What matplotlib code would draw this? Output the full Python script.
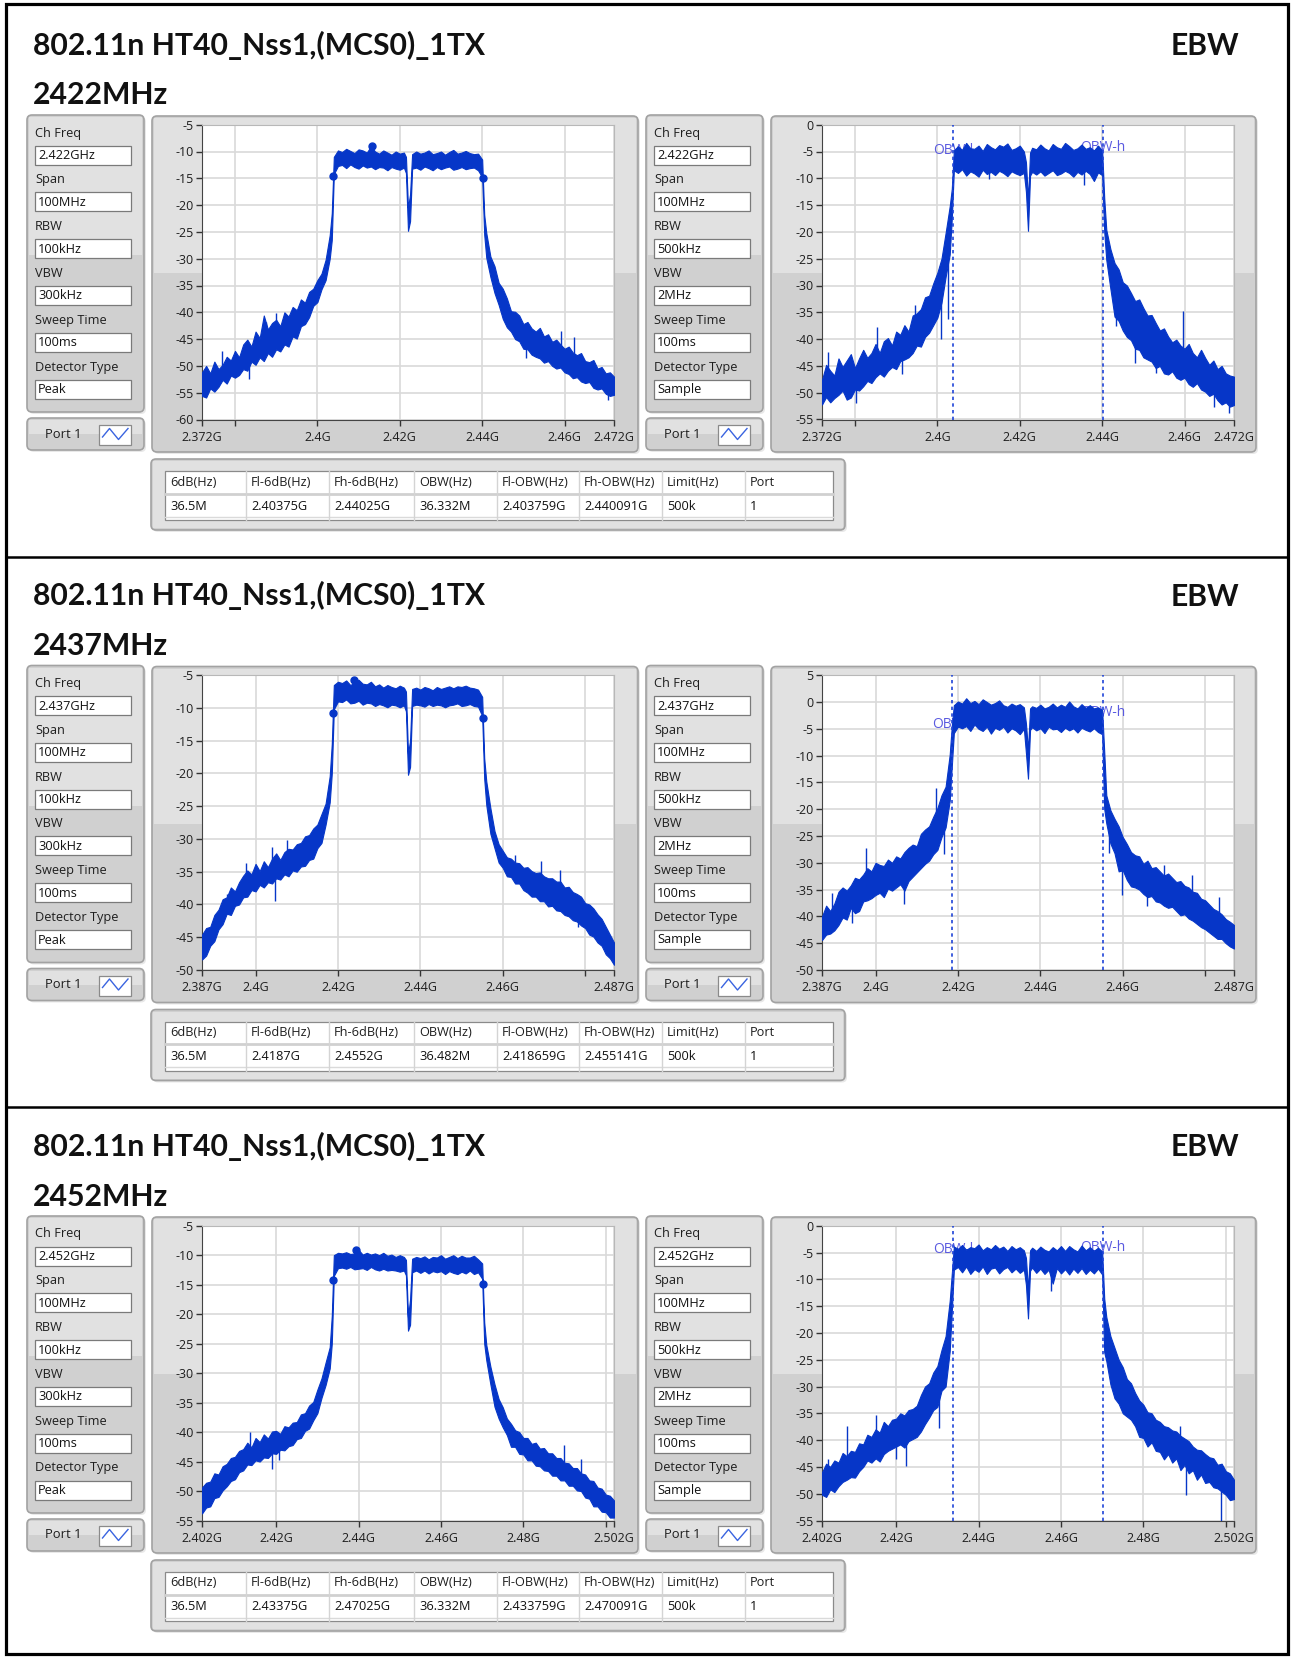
import numpy as np
import matplotlib.pyplot as plt
from matplotlib.patches import FancyBboxPatch, Rectangle

plt.rcParams['font.family'] = ['Open Sans', 'DejaVu Sans']

TEST_MODE = '802.11n HT40_Nss1,(MCS0)_1TX'
CH_FREQ = [2422, 2437, 2452]  # MHz

# sample points of the traces, MHz away from the channel centre
OFFSETS = ([float(v) for v in range(-50, -18)] + [-18.5]
           + [float(v) for v in range(-18, 0)] + [-0.5, 0.0, 0.5]
           + [float(v) for v in range(1, 19)] + [18.5]
           + [float(v) for v in range(19, 51)])

# peak detector traces (RBW 100kHz): upper / lower edge of the noisy trace, dBm
PK_2422_HI = [-51.2, -50.0, -51.4, -49.2, -50.6, -49.8, -48.3, -49.0, -47.2, -48.4,
              -46.0, -45.1, -46.4, -43.6, -44.8, -40.6, -43.2, -42.0, -41.4, -42.6,
              -40.0, -40.8, -39.0, -39.6, -37.6, -38.2, -36.2, -35.6, -34.0, -32.8, -30.2, -25.6,
              -21.5,
              -11.0, -9.8, -10.1, -9.5, -9.9, -10.3, -9.6, -9.8, -10.2, -9.0,
              -10.0, -10.4, -9.8, -10.2, -10.6, -10.0, -10.4, -10.2,
              -11.0, -20.5, -18.0,
              -10.5, -10.0, -10.4, -10.2, -9.8, -10.5, -10.3, -10.0, -10.6, -10.1,
              -9.7, -10.4, -10.2, -9.9, -10.3, -10.5, -10.4, -11.5,
              -21.8,
              -25.2, -29.6, -31.4, -34.5, -35.6, -37.4, -39.8, -39.9, -40.6, -42.2, -41.8, -43.0,
              -43.6, -42.9, -44.5, -44.1, -45.5, -45.1, -46.0, -46.8, -46.4, -47.5,
              -48.0, -47.6, -49.1, -49.3, -48.9, -50.5, -50.2, -51.4, -51.2, -52.0]
PK_2422_LO = [-55.6, -55.9, -54.2, -54.8, -53.9, -52.6, -53.3, -51.8, -52.2, -51.7,
              -50.6, -50.9, -49.2, -49.8, -48.4, -49.1, -47.6, -48.3, -46.9, -47.3,
              -46.0, -46.4, -44.5, -44.9, -42.6, -42.2, -40.9, -38.8, -38.1, -35.7, -34.0, -30.0,
              -26.5,
              -14.2, -12.7, -12.5, -13.1, -12.4, -12.9, -13.2, -12.6, -13.0, -12.8,
              -13.3, -12.9, -13.0, -13.5, -12.9, -13.2, -13.4, -13.0,
              -14.0, -24.8, -23.0,
              -13.2, -13.0, -13.4, -12.8, -13.1, -13.5, -12.9, -13.3, -13.0, -12.8,
              -13.4, -13.2, -12.9, -13.3, -13.1, -13.0, -13.5, -14.8,
              -25.5,
              -29.8, -33.4, -36.4, -38.6, -41.2, -42.8, -43.6, -45.0, -45.4, -46.8, -46.9, -47.9,
              -48.3, -48.6, -49.4, -49.1, -50.0, -50.5, -50.3, -51.2, -51.5, -52.3,
              -52.1, -52.9, -53.2, -53.0, -54.1, -54.4, -54.2, -55.2, -55.6, -55.4]

PK_2437_HI = [-44.6, -43.6, -43.4, -41.6, -40.8, -39.2, -38.9, -37.4, -38.0, -36.6,
              -35.6, -34.8, -35.4, -33.8, -34.9, -33.4, -34.3, -33.0, -32.2, -33.2,
              -32.0, -31.5, -31.6, -30.8, -30.6, -29.6, -29.4, -28.4, -27.8, -26.2, -24.6, -20.4,
              -15.5,
              -6.5, -6.0, -6.2, -5.8, -6.5, -6.1, -5.7, -6.3, -6.4, -6.0,
              -6.7, -6.4, -6.9, -6.5, -6.8, -7.0, -6.6, -6.9,
              -7.5, -17.0, -15.0,
              -7.1, -6.9, -7.2, -6.8, -7.0, -7.3, -6.8, -7.1, -6.9, -6.7,
              -7.0, -6.7, -6.8, -6.6, -6.9, -7.0, -7.2, -8.3,
              -17.7,
              -21.2, -25.3, -28.8, -30.8, -31.8, -32.8, -33.0, -33.6, -33.7, -34.4, -34.3, -34.9,
              -35.2, -35.1, -35.7, -36.0, -36.0, -36.5, -36.5, -37.4, -37.3, -38.1,
              -38.4, -38.8, -39.8, -40.0, -40.6, -41.5, -42.2, -43.4, -44.6, -45.8]
PK_2437_LO = [-48.4, -47.8, -46.3, -45.6, -43.8, -43.0, -41.4, -41.6, -40.2, -40.0,
              -38.9, -38.8, -37.8, -38.0, -37.0, -37.4, -36.6, -36.8, -36.0, -36.2,
              -35.4, -35.7, -34.8, -35.0, -34.2, -34.1, -33.2, -33.0, -31.4, -30.6, -27.8, -24.4,
              -20.0,
              -10.2, -9.0, -9.1, -8.7, -9.3, -9.2, -8.9, -9.5, -9.2, -9.3,
              -9.7, -9.4, -9.6, -9.9, -9.5, -9.6, -9.9, -9.6,
              -10.5, -20.2, -19.0,
              -9.7, -9.5, -9.6, -9.8, -9.4, -9.7, -9.5, -9.6, -9.9, -9.6,
              -9.5, -9.3, -9.7, -9.6, -9.4, -9.7, -9.8, -11.2,
              -20.8,
              -24.8, -29.2, -31.4, -33.6, -34.4, -35.7, -35.8, -36.8, -36.8, -37.8, -38.2, -38.8,
              -38.8, -39.5, -39.5, -40.3, -40.2, -40.9, -41.0, -41.6, -41.8, -42.4,
              -42.6, -43.2, -43.6, -44.6, -44.9, -45.8, -46.3, -47.6, -48.2, -49.2]

PK_2452_HI = [-49.4, -48.6, -48.4, -47.0, -47.2, -45.8, -45.4, -44.4, -44.2, -43.2,
              -42.9, -41.8, -42.6, -41.0, -41.7, -40.4, -41.1, -39.9, -39.8, -40.3,
              -39.0, -39.2, -38.4, -38.3, -37.0, -36.8, -35.5, -34.9, -32.8, -30.9, -28.2, -25.6,
              -20.3,
              -10.0, -9.6, -9.7, -9.5, -9.8, -9.7, -9.1, -9.9, -9.6, -9.9,
              -9.7, -10.0, -9.6, -10.1, -9.9, -10.3, -10.0, -10.3,
              -10.8, -20.5, -17.5,
              -10.6, -10.3, -10.5, -10.2, -10.7, -10.3, -10.4, -10.0, -10.6, -10.3,
              -10.0, -10.5, -10.1, -10.4, -10.4, -10.1, -10.7, -11.4,
              -21.4,
              -25.2, -28.9, -31.9, -34.4, -35.8, -37.7, -38.6, -39.7, -40.0, -41.0, -41.0, -42.0,
              -41.8, -42.8, -42.7, -43.6, -43.6, -44.4, -44.4, -45.2, -45.3, -46.1,
              -46.1, -47.0, -47.2, -48.2, -48.3, -49.4, -49.6, -50.6, -50.8, -51.6]
PK_2452_LO = [-53.8, -52.8, -52.6, -51.2, -51.0, -49.9, -49.2, -48.3, -48.0, -46.8,
              -46.5, -45.5, -45.6, -44.8, -45.0, -44.3, -44.4, -43.6, -43.7, -43.0,
              -43.1, -42.4, -42.2, -41.2, -41.0, -39.8, -39.4, -38.0, -36.8, -34.2, -32.0, -29.2,
              -25.0,
              -13.5, -12.2, -12.1, -12.3, -12.0, -12.4, -12.3, -12.2, -12.5, -12.0,
              -12.4, -12.6, -12.3, -12.6, -12.5, -12.6, -12.8, -12.6,
              -13.4, -22.8, -21.8,
              -12.9, -12.6, -13.0, -12.6, -13.1, -12.7, -12.9, -12.7, -13.2, -12.7,
              -13.0, -13.2, -12.8, -13.1, -12.6, -13.2, -12.9, -14.0,
              -25.0,
              -27.8, -31.9, -35.7, -37.7, -39.2, -40.5, -42.5, -42.5, -43.7, -43.8, -44.8, -44.8,
              -45.7, -45.8, -46.5, -46.6, -47.4, -47.4, -48.2, -48.2, -49.1, -49.1,
              -49.9, -50.0, -51.1, -51.3, -52.6, -52.6, -53.5, -53.6, -54.5, -54.5]

# sample detector traces (RBW 500kHz)
SA_2422_HI = [-47.6, -44.8, -45.9, -46.8, -43.6, -45.2, -44.0, -42.8, -45.4, -43.6,
              -42.0, -43.5, -42.6, -40.9, -42.6, -40.4, -39.8, -41.2, -38.6, -39.2,
              -37.4, -38.6, -35.6, -35.2, -34.4, -32.2, -31.9, -29.6, -27.6, -25.0, -20.2, -15.2,
              -12.0,
              -4.8, -4.0, -4.7, -3.4, -4.4, -4.5, -3.9, -4.9, -3.6, -4.2,
              -4.6, -3.8, -4.1, -3.5, -4.7, -4.4, -3.9, -5.0,
              -7.0, -14.0, -5.2,
              -4.3, -4.6, -3.7, -4.4, -4.8, -3.6, -4.2, -4.5, -3.4, -4.0,
              -4.7, -4.4, -3.7, -4.5, -4.2, -4.8, -3.9, -4.8,
              -13.7,
              -19.6, -23.2, -25.8, -27.0, -29.4, -30.0, -31.4, -32.9, -32.6, -34.2, -35.6, -35.5,
              -37.0, -38.4, -38.0, -39.5, -40.6, -40.1, -41.2, -41.8, -40.9, -42.6,
              -43.4, -42.0, -43.5, -44.8, -44.0, -45.6, -45.0, -46.4, -46.8, -47.0]
SA_2422_LO = [-52.2, -50.8, -51.8, -51.0, -50.4, -49.6, -51.3, -50.9, -49.4, -49.6,
              -48.8, -47.8, -48.2, -47.1, -46.4, -47.0, -45.9, -45.2, -45.6, -44.1,
              -43.8, -43.4, -42.6, -41.2, -41.4, -39.6, -38.8, -37.4, -36.0, -33.2, -28.4, -24.2,
              -17.5,
              -8.5, -9.0, -8.3, -9.5, -8.7, -9.1, -9.7, -8.4, -9.2, -8.8,
              -9.4, -8.6, -9.0, -9.6, -8.7, -9.1, -9.4, -9.0,
              -12.5, -19.8, -9.5,
              -8.8, -9.3, -8.7, -9.5, -9.0, -8.5, -9.4, -9.1, -8.6, -9.0,
              -9.7, -8.8, -9.3, -8.6, -9.2, -10.5, -8.9, -9.4,
              -19.9,
              -25.2, -30.6, -35.8, -36.6, -38.4, -39.6, -40.2, -41.8, -42.0, -43.4, -43.8, -44.2,
              -45.4, -45.0, -46.4, -46.6, -46.0, -47.2, -47.6, -47.2, -48.4, -48.9,
              -48.2, -49.4, -49.8, -50.6, -50.2, -51.4, -52.2, -51.8, -52.6, -52.3]

SA_2437_HI = [-40.0, -38.0, -39.0, -37.6, -35.4, -34.6, -35.2, -34.2, -32.8, -33.1,
              -32.2, -31.0, -31.6, -30.0, -30.4, -30.6, -29.4, -30.0, -28.8, -29.2,
              -28.0, -27.2, -26.6, -26.9, -24.6, -23.8, -23.2, -21.4, -19.8, -17.4, -15.8, -9.8,
              -4.5,
              -0.6, 0.1, -0.3, 0.7, -0.2, 0.2, -0.4, 0.5, 0.0, -0.5,
              -0.2, 0.3, -0.6, -0.9, -0.3, -0.7, -0.4, -1.0,
              -4.0, -9.0, -1.2,
              -0.8, -1.1, -0.5, -1.2, -0.9, -0.3, -1.0, -0.5, -0.9, 0.1,
              -0.8, -1.2, -0.4, -1.1, -0.6, -1.2, -1.0, -1.5,
              -9.3,
              -17.4, -20.2, -21.8, -23.2, -25.2, -26.5, -28.0, -28.6, -28.8, -30.2, -29.6, -31.0,
              -30.8, -31.6, -32.4, -32.0, -32.8, -33.6, -33.4, -34.3, -34.6, -35.4,
              -35.6, -36.7, -37.0, -37.8, -38.6, -39.0, -39.6, -40.5, -41.0, -41.6]
SA_2437_LO = [-44.4, -43.4, -43.2, -42.6, -41.6, -40.2, -40.6, -38.4, -39.4, -39.0,
              -37.2, -37.0, -36.6, -36.0, -35.6, -36.4, -34.8, -35.2, -34.6, -34.0,
              -35.2, -33.4, -32.6, -31.8, -31.0, -30.2, -29.6, -28.4, -27.6, -25.2, -23.4, -18.4,
              -12.0,
              -5.8, -4.6, -4.9, -4.5, -5.4, -4.2, -5.0, -5.4, -4.6, -5.9,
              -4.8, -5.2, -4.6, -5.7, -4.9, -5.3, -6.0, -5.0,
              -9.5, -14.3, -5.2,
              -4.7, -5.3, -4.9, -5.8, -4.6, -5.1, -5.0, -5.6, -4.8, -5.3,
              -4.9, -5.7, -4.8, -5.2, -5.5, -4.9, -5.6, -6.0,
              -19.9,
              -22.6, -26.4, -28.2, -31.6, -31.4, -33.2, -34.4, -34.6, -35.0, -35.8, -36.4, -36.2,
              -37.2, -37.4, -38.0, -38.4, -38.2, -39.0, -39.8, -39.6, -40.4, -40.8,
              -41.4, -42.0, -42.4, -43.0, -43.6, -44.2, -44.2, -45.0, -45.6, -46.0]

SA_2452_HI = [-46.0, -44.4, -45.0, -43.8, -44.2, -42.4, -43.0, -42.0, -42.2, -40.6,
              -40.8, -39.0, -39.4, -38.0, -38.6, -36.6, -37.4, -36.2, -36.0, -35.0,
              -35.4, -34.4, -34.2, -33.6, -31.6, -30.0, -29.4, -27.4, -26.2, -23.2, -20.6, -14.0,
              -9.0,
              -3.9, -4.3, -3.6, -4.5, -4.0, -4.2, -3.5, -4.6, -4.0, -4.4,
              -3.6, -4.3, -3.9, -4.7, -3.8, -4.4, -4.0, -4.6,
              -6.0, -12.0, -4.6,
              -4.1, -4.7, -3.9, -4.5, -4.8, -4.0, -4.6, -3.8, -4.7, -3.8,
              -4.4, -4.8, -3.7, -4.6, -4.0, -4.7, -4.1, -4.8,
              -13.6,
              -17.0, -20.6, -22.8, -25.0, -26.4, -28.6, -29.4, -31.2, -32.6, -33.4, -34.8, -35.0,
              -36.2, -36.6, -37.4, -37.6, -38.2, -38.4, -39.2, -39.7, -40.2, -41.2,
              -41.8, -41.9, -42.6, -43.2, -43.4, -44.6, -44.4, -45.8, -46.2, -47.4]
SA_2452_LO = [-50.2, -50.6, -49.2, -49.7, -48.6, -47.8, -47.4, -46.9, -47.0, -45.8,
              -45.0, -43.8, -44.2, -43.4, -44.0, -42.6, -42.0, -41.6, -41.2, -40.8,
              -41.4, -40.2, -39.8, -39.4, -38.4, -37.0, -35.8, -34.4, -33.8, -30.8, -30.0, -23.4,
              -16.0,
              -8.2, -7.7, -8.7, -7.6, -9.0, -8.1, -8.6, -7.6, -9.0, -8.0,
              -7.8, -8.9, -8.1, -7.7, -8.7, -8.0, -8.8, -8.2,
              -11.0, -17.3, -8.4,
              -7.8, -8.8, -8.0, -9.0, -8.2, -10.8, -7.9, -8.9, -8.1, -9.1,
              -8.0, -8.8, -7.9, -9.0, -8.2, -8.9, -8.0, -9.1,
              -23.6,
              -25.2, -29.6, -32.2, -33.2, -35.0, -35.6, -36.2, -37.4, -39.4, -39.6, -41.2, -40.4,
              -42.0, -42.2, -43.6, -42.6, -44.2, -43.4, -45.6, -44.6, -46.2, -45.6,
              -47.4, -46.4, -48.0, -47.8, -48.8, -49.0, -49.6, -50.2, -51.2, -51.0]

# isolated spikes sticking out of the traces: (offset MHz, tip dBm)
PK_2422_SPIKES = [(-45.2, -47.2), (-38.5, -52.4), (-34.5, -41.8), (-32.0, -40.2),
                  (28.6, -48.6), (37.2, -43.4), (40.2, -44.6), (44.8, -53.8), (48.6, -56.4)]
PK_2437_SPIKES = [(-44.0, -38.4), (-39.2, -33.6), (-33.0, -31.2), (-32.4, -39.4),
                  (-29.4, -30.2), (26.0, -32.4), (32.2, -33.4), (36.8, -34.8),
                  (41.2, -43.4), (47.9, -47.0)]
PK_2452_SPIKES = [(-45.0, -46.0), (-38.4, -40.0), (-33.1, -46.2), (-31.4, -44.8),
                  (37.9, -42.2), (42.0, -44.6), (46.8, -53.2)]
SA_2422_SPIKES = [(-48.6, -42.4), (-41.8, -52.0), (-36.6, -37.8), (-30.5, -46.5),
                  (-27.4, -33.6), (-21.0, -40.0), (-19.4, -36.2), (-9.5, -10.2),
                  (13.6, -11.2), (21.4, -37.6), (26.0, -44.5), (31.0, -46.4),
                  (37.6, -34.8), (45.2, -52.6), (48.8, -53.8)]
SA_2437_SPIKES = [(-47.6, -35.6), (-42.6, -41.2), (-39.4, -27.2), (-30.2, -37.6),
                  (-22.4, -16.0), (-20.4, -28.4), (19.7, -28.2), (22.9, -36.0),
                  (29.0, -38.0), (33.0, -30.4), (39.9, -32.2), (46.4, -36.4)]
SA_2452_SPIKES = [(-48.6, -43.6), (-43.9, -37.4), (-37.0, -35.4), (-32.1, -43.6),
                  (-29.7, -44.8), (-21.6, -37.8), (5.7, -12.2), (26.1, -32.4),
                  (37.0, -37.4), (38.3, -50.2), (46.8, -55.0)]

PK_HI = [PK_2422_HI, PK_2437_HI, PK_2452_HI]
PK_LO = [PK_2422_LO, PK_2437_LO, PK_2452_LO]
PK_SPIKES = [PK_2422_SPIKES, PK_2437_SPIKES, PK_2452_SPIKES]
SA_HI = [SA_2422_HI, SA_2437_HI, SA_2452_HI]
SA_LO = [SA_2422_LO, SA_2437_LO, SA_2452_LO]
SA_SPIKES = [SA_2422_SPIKES, SA_2437_SPIKES, SA_2452_SPIKES]

PK_YLIM = [(-60, -5), (-50, -5), (-55, -5)]
SA_YLIM = [(-55, 0), (-50, 5), (-55, 0)]

# peak marker (offset MHz, dBm) and the two -6 dB markers
PEAK_OFF = [-8.8, -13.0, -12.5]
PEAK_DB = [-9.0, -5.7, -9.1]
EDGE_L_DB = [-14.6, -10.8, -14.2]
EDGE_H_DB = [-15.0, -11.5, -14.9]

# measurement results
BW_6DB = [36.5, 36.5, 36.5]          # MHz
FL_6DB = [2.40375, 2.4187, 2.43375]  # GHz
FH_6DB = [2.44025, 2.4552, 2.47025]
OBW = [36.332, 36.482, 36.332]       # MHz
FL_OBW = [2.403759, 2.418659, 2.433759]
FH_OBW = [2.440091, 2.455141, 2.470091]
LIMIT = '500k'
PORT = '1'

TABLE_HEAD = ['6dB(Hz)', 'Fl-6dB(Hz)', 'Fh-6dB(Hz)', 'OBW(Hz)',
              'Fl-OBW(Hz)', 'Fh-OBW(Hz)', 'Limit(Hz)', 'Port']
SETTING_NAMES = ['Ch Freq', 'Span', 'RBW', 'VBW', 'Sweep Time', 'Detector Type']
PEAK_SETTINGS = ['100MHz', '100kHz', '300kHz', '100ms', 'Peak']
SAMPLE_SETTINGS = ['100MHz', '500kHz', '2MHz', '100ms', 'Sample']

X_TICKS = [[2.372, 2.38, 2.40, 2.42, 2.44, 2.46, 2.472],
           [2.387, 2.40, 2.42, 2.44, 2.46, 2.48, 2.487],
           [2.402, 2.42, 2.44, 2.46, 2.48, 2.50, 2.502]]

BLUE = '#0636c8'
W, H = 1292, 1657

fig = plt.figure(figsize=(W / 100, H / 100), dpi=100)
fig.patch.set_facecolor('white')

# full-figure canvas in pixel units for frames, boxes and labels
bg = fig.add_axes([0, 0, 1, 1])
bg.set_xlim(0, W)
bg.set_ylim(H, 0)
bg.axis('off')


def frame(x0, y0, x1, y1, split=None, r=5):
    bg.add_patch(FancyBboxPatch((x0 + 2, y0 + 2), x1 - x0, y1 - y0,
                                boxstyle=f'round,pad=0,rounding_size={r}',
                                fc='#e8e8e8', ec='none'))
    bg.add_patch(FancyBboxPatch((x0, y0), x1 - x0, y1 - y0,
                                boxstyle=f'round,pad=0,rounding_size={r}',
                                fc='#d0d0d0', ec='#a2a2a2', lw=1.2))
    top = split if split else y1 - 2
    bg.add_patch(Rectangle((x0 + 2, y0 + 2), x1 - x0 - 4, top - y0 - 2,
                           fc='#e1e1e1', ec='none'))


def settings(x0, dy, values):
    frame(x0, 115 + dy, x0 + 117, 412 + dy, split=255 + dy)
    for i, name in enumerate(SETTING_NAMES):
        yl = 133 + dy + 46.8 * i
        bg.text(x0 + 8, yl, name, fontsize=9.2, va='center', color='#1e1e1e')
        bg.add_patch(Rectangle((x0 + 8, yl + 12.5), 96, 19, fc='white',
                               ec='#7a7a7a', lw=0.9))
        bg.text(x0 + 11, yl + 22.5, values[i], fontsize=9.2, va='center',
                color='#111111')
    frame(x0, 418 + dy, x0 + 117, 450 + dy, split=434 + dy)
    bg.text(x0 + 36, 434 + dy, 'Port 1', ha='center', va='center',
            fontsize=9.4, color='#1e1e1e')
    bg.add_patch(Rectangle((x0 + 72, 425 + dy), 32, 20, fc='white',
                           ec='#8a8a8a', lw=0.9))
    bg.plot([x0 + 75.5, x0 + 82.5, x0 + 91.5, x0 + 101],
            [437 + dy, 428.5 + dy, 439.5 + dy, 428.5 + dy],
            color='#3a64e0', lw=1.0)


def result_table(k, dy):
    frame(151, 459 + dy, 845, 530 + dy)
    bg.add_patch(Rectangle((165, 471 + dy), 668, 49, fc='white',
                           ec='#8a8a8a', lw=0.9))
    bg.plot([165, 833], [493.5 + dy] * 2, color='#d0d0d0', lw=2)
    bg.plot([165, 833], [516.5 + dy] * 2, color='#dadada', lw=1)
    cols = [165, 246, 329, 414, 497, 579, 662, 745]
    for cx in cols[1:]:
        bg.plot([cx, cx], [471 + dy, 520 + dy], color='#d4d4d4', lw=1)
    row = [f'{BW_6DB[k]}M', f'{FL_6DB[k]}G', f'{FH_6DB[k]}G', f'{OBW[k]}M',
           f'{FL_OBW[k]}G', f'{FH_OBW[k]}G', LIMIT, PORT]
    for cx, head, val in zip(cols, TABLE_HEAD, row):
        bg.text(cx + 5, 482 + dy, head, fontsize=9.2, va='center', color='#1e1e1e')
        bg.text(cx + 5, 506 + dy, val, fontsize=9.2, va='center', color='#111111')


def spectrum(x0, dy, k, hi, lo, spikes, ylim):
    ax = fig.add_axes([x0 / W, 1 - (419.5 + dy) / H, 412 / W, 294.8 / H])
    ax.set_zorder(3)
    c = CH_FREQ[k]
    left, right = (c - 50) / 1000, (c + 50) / 1000
    ax.set_xlim(left, right)
    ax.set_ylim(*ylim)
    ticks = X_TICKS[k]
    ax.set_xticks(ticks)
    labels = []
    for t in ticks:
        near_edge = min(abs(t - left), abs(t - right))
        labels.append('' if 1e-6 < near_edge < 0.01 else f'{t:g}G')
    ax.set_xticklabels(labels)
    yt = np.arange(ylim[0], ylim[1] + 1, 5)
    ax.set_yticks(yt)
    ax.set_yticklabels([str(int(v)) for v in yt])
    ax.tick_params(length=4, width=1, color='#333333', labelsize=9,
                   labelcolor='#1e1e1e', pad=2)
    ax.tick_params(axis='x', pad=4)
    ax.grid(True, color='#d9d9d9', lw=1.2)
    ax.set_axisbelow(True)
    for side in ('left', 'bottom'):
        ax.spines[side].set_color('#444444')
    for side in ('top', 'right'):
        ax.spines[side].set_color('#b8b8b8')
    off = np.array(OFFSETS)
    hi, lo = np.array(hi), np.array(lo)
    ax.fill_between((c + off) / 1000, lo, hi, color=BLUE, lw=0.8, zorder=3)
    # spikes grow out of the middle of the trace
    so = np.array([s[0] for s in spikes])
    tips = np.array([s[1] for s in spikes])
    base = np.interp(so, off, (hi + lo) / 2)
    ax.vlines((c + so) / 1000, base, tips, color=BLUE, lw=1.0, zorder=3)
    return ax


SECTION_DY = [0, 550.5, 1101]
OBW_LABEL_DB = [(-4.8, -4.3), (-4.2, -2.0), (-4.5, -4.1)]

for k, dy in enumerate(SECTION_DY):
    bg.text(33, 55 + dy, TEST_MODE, fontsize=21.7, fontweight='bold',
            family='Lato', color='#111111')
    bg.text(1239, 55 + dy, 'EBW', ha='right', fontsize=21.7,
            fontweight='bold', family='Lato', color='#111111')
    bg.text(33, 104.5 + dy, f'{CH_FREQ[k]}MHz', fontsize=21.7,
            fontweight='bold', family='Lato', color='#111111')

    ch = f'{CH_FREQ[k] / 1000:g}GHz'
    settings(27, dy, [ch] + PEAK_SETTINGS)
    settings(646, dy, [ch] + SAMPLE_SETTINGS)
    frame(152, 116 + dy, 638, 452 + dy, split=273 + dy)
    frame(771, 116 + dy, 1256, 452 + dy, split=273 + dy)
    result_table(k, dy)

    # peak detector view with -6 dB markers
    ax = spectrum(202, dy, k, PK_HI[k], PK_LO[k], PK_SPIKES[k], PK_YLIM[k])
    ax.plot([FL_6DB[k], FH_6DB[k]], [EDGE_L_DB[k], EDGE_H_DB[k]], 'o',
            ms=5, color=BLUE, zorder=4)
    ax.plot([(CH_FREQ[k] + PEAK_OFF[k]) / 1000], [PEAK_DB[k]], 'o',
            ms=5, color=BLUE, zorder=4)

    # sample detector view with occupied bandwidth cursors
    ax = spectrum(822, dy, k, SA_HI[k], SA_LO[k], SA_SPIKES[k], SA_YLIM[k])
    for fx, name, ly in zip((FL_OBW[k], FH_OBW[k]), ('OBW-l', 'OBW-h'),
                            OBW_LABEL_DB[k]):
        ax.axvline(fx, color='#1f44d8', lw=1.2, ls=(0, (2, 2)), zorder=4)
        ax.text(fx, ly, name, ha='center', va='center', fontsize=10,
                color='#5a5ae0', zorder=2)

# black outline around the three result blocks
bg.add_patch(Rectangle((5.5, 3.5), 1282, 1650.5, fill=False, ec='black', lw=2.3))
for yy in (556.5, 1107):
    bg.plot([5.5, 1287.5], [yy, yy], color='black', lw=1.8)

fig.savefig('out.png', dpi=100, facecolor='white')
